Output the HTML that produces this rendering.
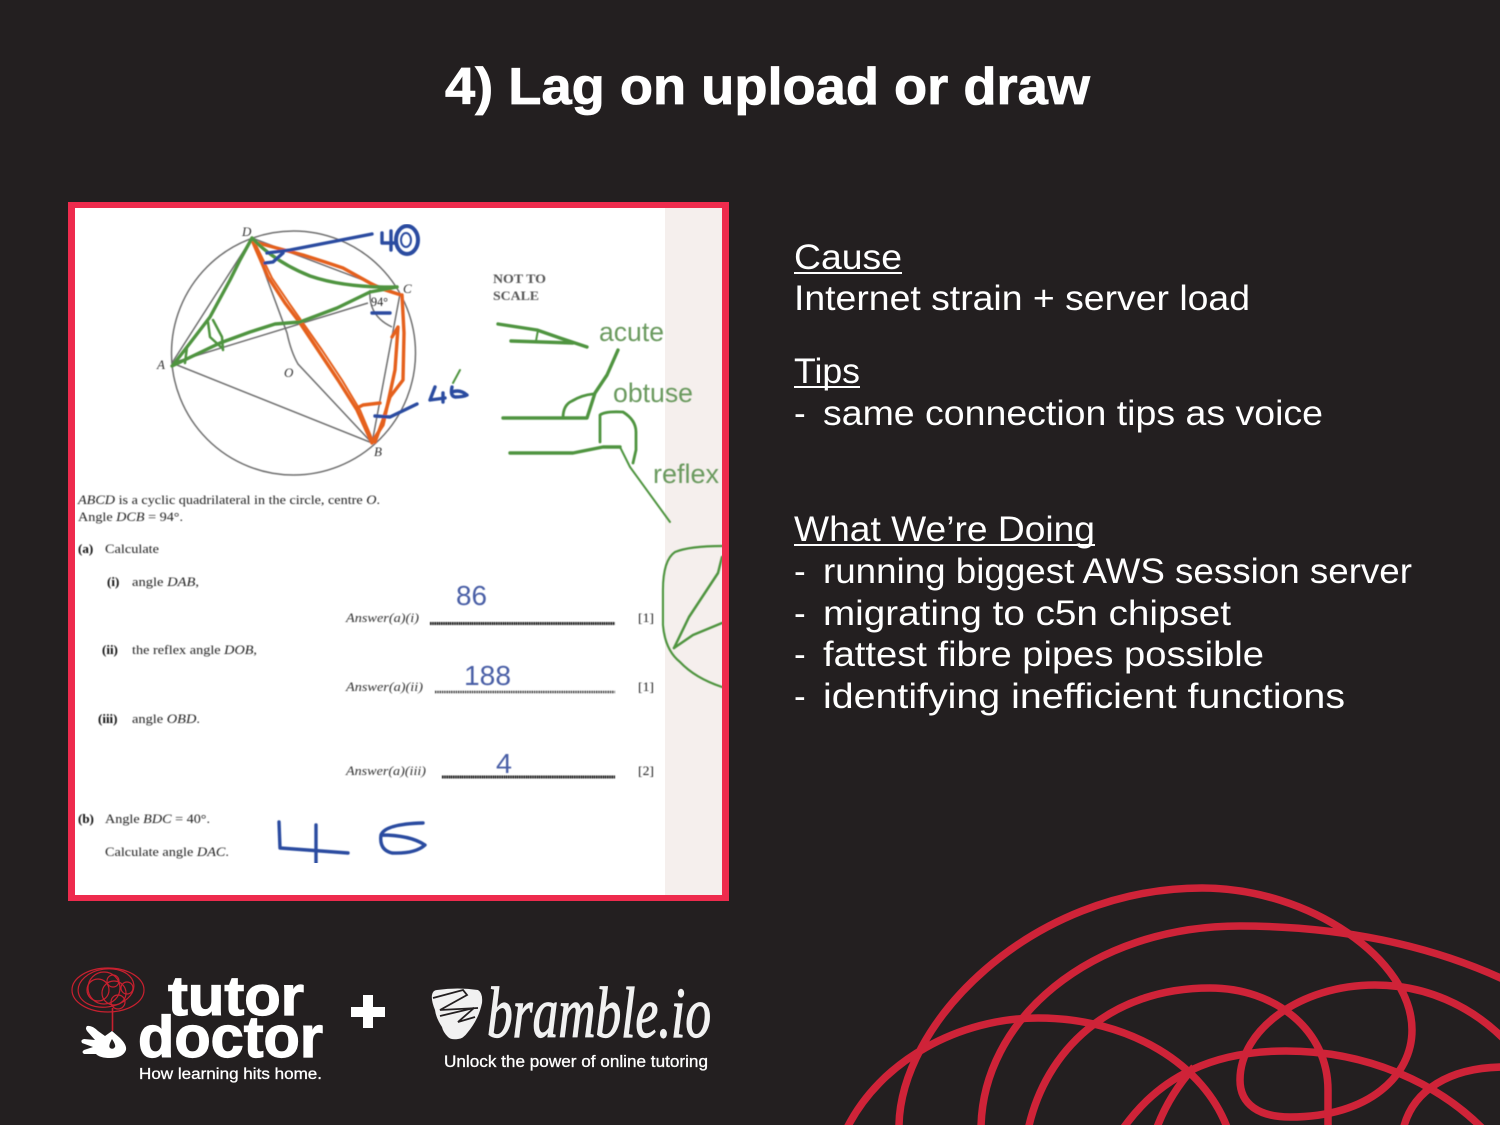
<!DOCTYPE html>
<html lang="en">
<head>
<meta charset="utf-8">
<title>Lag on upload or draw</title>
<style>
html,body{margin:0;padding:0;background:#231f20;width:1500px;height:1125px;overflow:hidden}
svg{display:block}
text{font-family:"Liberation Sans",sans-serif}
.body{font-size:35px;fill:#fff}
.ex{font-family:"Liberation Serif",serif;font-size:13px;fill:#222}
.exb{font-family:"Liberation Serif",serif;font-size:13px;font-weight:bold;fill:#111}
.exi{font-family:"Liberation Serif",serif;font-size:13px;font-style:italic;fill:#333}
.g{fill:none;stroke:#4f9440;stroke-width:3.4;stroke-linejoin:round;stroke-linecap:round}
.o{fill:none;stroke:#e5611d;stroke-width:3.4;stroke-linejoin:round;stroke-linecap:round}
.b{fill:none;stroke:#2a4ba0;stroke-width:3.4;stroke-linejoin:round;stroke-linecap:round}
.k{fill:none;stroke:#6e6e6e;stroke-width:1.5}
.lab{font-size:26.5px;fill:#6a9a5e}
.num{font-size:28px;fill:#4a5ea6}
.s{fill:none;stroke:#cf2338;stroke-width:7.5}
.br{fill:none;stroke:#c8202f;stroke-width:1.2}
</style>
</head>
<body>
<svg width="1500" height="1125" viewBox="0 0 1500 1125" xmlns="http://www.w3.org/2000/svg">
<defs><filter id="soft" x="0" y="0" width="1" height="1"><feGaussianBlur stdDeviation="0.4"/></filter></defs>
<rect width="1500" height="1125" fill="#231f20"/>

<text x="445" y="104" font-size="52" font-weight="bold" fill="#fff" stroke="#fff" stroke-width="0.8" textLength="645" lengthAdjust="spacingAndGlyphs">4) Lag on upload or draw</text>

<!-- Right text -->
<text class="body" x="794" y="269" textLength="108" lengthAdjust="spacingAndGlyphs">Cause</text>
<rect x="794" y="272" width="108" height="2" fill="#fff"/>
<text class="body" x="794" y="310" textLength="456" lengthAdjust="spacingAndGlyphs">Internet strain + server load</text>
<text class="body" x="794" y="383" textLength="66" lengthAdjust="spacingAndGlyphs">Tips</text>
<rect x="794" y="386" width="66" height="2" fill="#fff"/>
<text class="body" x="794" y="425">-</text>
<text class="body" x="823" y="425" textLength="500" lengthAdjust="spacingAndGlyphs">same connection tips as voice</text>
<text class="body" x="794" y="541" textLength="301" lengthAdjust="spacingAndGlyphs">What We’re Doing</text>
<rect x="794" y="544" width="301" height="2" fill="#fff"/>
<text class="body" x="794" y="583">-</text>
<text class="body" x="823" y="583" textLength="589" lengthAdjust="spacingAndGlyphs">running biggest AWS session server</text>
<text class="body" x="794" y="625">-</text>
<text class="body" x="823" y="625" textLength="408" lengthAdjust="spacingAndGlyphs">migrating to c5n chipset</text>
<text class="body" x="794" y="666">-</text>
<text class="body" x="823" y="666" textLength="441" lengthAdjust="spacingAndGlyphs">fattest fibre pipes possible</text>
<text class="body" x="794" y="708">-</text>
<text class="body" x="823" y="708" textLength="522" lengthAdjust="spacingAndGlyphs">identifying inefficient functions</text>

<!-- Exam image -->
<rect x="68" y="202" width="661" height="699" fill="#ee2b4d"/>
<rect x="75" y="208" width="647" height="687" fill="#fff"/>
<rect x="665" y="208" width="57" height="687" fill="#f5efed"/>

<g filter="url(#soft)">
<circle class="k" cx="293.5" cy="353" r="122"/>
<polygon class="k" points="252,238 400,294 372,443 172,363"/>
<path class="k" d="M172 363L368 303M252 238L287 333Q291 352 298 364L372 443"/>
<path class="k" d="M370 290Q368 316 392 327"/>
<text class="exi" x="242" y="236">D</text><text class="exi" x="403" y="293">C</text>
<text class="exi" x="157" y="369">A</text><text class="exi" x="374" y="456">B</text>
<text class="exi" x="284" y="377">O</text><text class="ex" x="371" y="306" textLength="17" lengthAdjust="spacingAndGlyphs">94°</text>

<text class="exb" x="493" y="283" textLength="53" lengthAdjust="spacingAndGlyphs" style="fill:#555">NOT TO</text>
<text class="exb" x="493" y="300" textLength="46" lengthAdjust="spacingAndGlyphs" style="fill:#555">SCALE</text>

<text class="ex" x="78" y="504" textLength="302" lengthAdjust="spacingAndGlyphs"><tspan font-style="italic">ABCD</tspan> is a cyclic quadrilateral in the circle, centre <tspan font-style="italic">O</tspan>.</text>
<text class="ex" x="78" y="521" textLength="105" lengthAdjust="spacingAndGlyphs">Angle <tspan font-style="italic">DCB</tspan> = 94°.</text>
<text class="exb" x="78" y="553">(a)</text><text class="ex" x="105" y="553" textLength="54" lengthAdjust="spacingAndGlyphs">Calculate</text>
<text class="exb" x="107" y="586">(i)</text><text class="ex" x="132" y="586" textLength="67" lengthAdjust="spacingAndGlyphs">angle <tspan font-style="italic">DAB</tspan>,</text>
<text class="exb" x="102" y="654">(ii)</text><text class="ex" x="132" y="654" textLength="125" lengthAdjust="spacingAndGlyphs">the reflex angle <tspan font-style="italic">DOB</tspan>,</text>
<text class="exb" x="98" y="723">(iii)</text><text class="ex" x="132" y="723" textLength="68" lengthAdjust="spacingAndGlyphs">angle <tspan font-style="italic">OBD</tspan>.</text>
<text class="exb" x="78" y="823">(b)</text><text class="ex" x="105" y="823" textLength="105" lengthAdjust="spacingAndGlyphs">Angle <tspan font-style="italic">BDC</tspan> = 40°.</text>
<text class="ex" x="105" y="856" textLength="124" lengthAdjust="spacingAndGlyphs">Calculate angle <tspan font-style="italic">DAC</tspan>.</text>

<text class="exi" x="346" y="622" textLength="73" lengthAdjust="spacingAndGlyphs">Answer(a)(i)</text>
<text class="exi" x="346" y="691" textLength="77" lengthAdjust="spacingAndGlyphs">Answer(a)(ii)</text>
<text class="exi" x="346" y="775" textLength="80" lengthAdjust="spacingAndGlyphs">Answer(a)(iii)</text>
<text class="ex" x="638" y="622" textLength="16" lengthAdjust="spacingAndGlyphs">[1]</text>
<text class="ex" x="638" y="691" textLength="16" lengthAdjust="spacingAndGlyphs">[1]</text>
<text class="ex" x="638" y="775" textLength="16" lengthAdjust="spacingAndGlyphs">[2]</text>
<path d="M430 623.5H615" stroke="#111" stroke-width="3" stroke-dasharray="1.6 .6" fill="none"/>
<path d="M435 692H615" stroke="#333" stroke-width="2.4" stroke-dasharray="1.4 .9" fill="none"/>
<path d="M442 777H615" stroke="#111" stroke-width="3" stroke-dasharray="1.6 .6" fill="none"/>

<text class="num" x="456" y="605" textLength="31" lengthAdjust="spacingAndGlyphs">86</text>
<text class="num" x="464" y="685" textLength="47" lengthAdjust="spacingAndGlyphs">188</text>
<text class="num" x="496" y="773" textLength="16" lengthAdjust="spacingAndGlyphs">4</text>

<text class="lab" x="599" y="341" textLength="65" lengthAdjust="spacingAndGlyphs">acute</text>
<text class="lab" x="613" y="402" textLength="80" lengthAdjust="spacingAndGlyphs">obtuse</text>
<text class="lab" x="653" y="483" textLength="66" lengthAdjust="spacingAndGlyphs">reflex</text>

<!-- orange -->
<polyline class="o" points="258,243 303,255 325,262 343,268 370,283 382,289 401,295"/>
<polyline class="o" points="252,240 268,277 285,303 300,323 318,350 338,380 357,410 372,443"/>
<polyline class="o" style="stroke-width:2" points="256,245 272,278 289,303 303,323 322,350 342,380 360,410 373,441"/>
<polyline class="o" points="402,295 404,333 403,380 390,397 383,420 375,442"/>
<polyline class="o" points="392,337 398,327 395,370 387,407 383,425 372,442"/>
<polyline class="o" points="357,408 363,405 380,403"/>
<!-- green -->
<polyline class="g" points="252,238 240,260 230,280 210,317 187,347 173,365"/>
<polyline class="g" points="172,366 220,343 250,332 275,324 300,322 337,308 370,292 397,287"/>
<path class="g" d="M252 238Q275 262 310 276Q345 288 397 287"/>
<polyline class="g" style="stroke-width:2.5" points="185,363 187,347"/>
<polyline class="g" style="stroke-width:2.5" points="208,322 210,337 222,348"/>
<polyline class="g" style="stroke-width:2.5" points="213,320 222,337 223,350"/>
<polyline class="g" style="stroke-width:2" points="460,370 453,383"/>
<polyline class="g" points="498,324 537,330 560,338 587,347"/>
<polyline class="g" points="511,341 573,343"/>
<polyline class="g" style="stroke-width:2" points="538,330 536,341"/>
<polyline class="g" points="503,418 587,418 595,393 607,375 618,350"/>
<path class="g" style="stroke-width:2.8" d="M563 418Q563 405 572 401Q582 395 593 394"/>
<polyline class="g" points="510,453 573,453 603,447 620,447"/>
<polyline class="g" style="stroke-width:2" points="620,447 630,467 670,522"/>
<path class="g" style="stroke-width:2.8" d="M600 442V415Q605 411 623 412Q636 420 636 432V450L633 463"/>
<path class="g" style="stroke-width:2.2" d="M722 546Q690 546 675 552Q663 560 663 590L663 625Q665 650 680 662Q695 678 722 687"/>
<polyline class="g" style="stroke-width:2.5" points="674,648 689,617 718,573 722,557"/>
<polyline class="g" style="stroke-width:2.5" points="674,648 693,635 722,623"/>
<!-- blue -->
<polyline class="b" points="372,234 290,250 267,253"/>
<polyline class="b" points="283,253 273,262 265,263"/>
<polyline class="b" points="382,233 382,243 395,243"/>
<path class="b" d="M391 231V250"/>
<ellipse class="b" cx="407" cy="240" rx="11" ry="14" style="stroke-width:4"/>
<ellipse class="b" cx="406" cy="240" rx="5" ry="7" style="stroke-width:2"/>
<polyline class="b" points="372,313 390,313"/>
<polyline class="b" points="375,416 390,417 417,404"/>
<polyline class="b" points="435,387 430,400 445,398"/>
<polyline class="b" points="443,393 443,402"/>
<path class="b" d="M452 387Q450 396 455 397Q463 397 467 395Q460 389 452 392"/>
<polyline class="b" points="279,822 280,848 348,853"/>
<polyline class="b" points="316,825 316,863"/>
<path class="b" d="M423 823Q385 824 381 835Q379 850 392 853Q415 854 425 845Q410 835 381 835"/>
</g>

<!-- Swirls -->
<path class="s" d="M899 1130C897 1025 1030 888 1202 888C1310 888 1412 960 1412 1030C1412 1075 1370 1117 1290 1117C1260 1117 1240 1105 1240 1080C1240 1030 1300 985 1375 985C1425 985 1470 1005 1505 1040"/>
<path class="s" d="M981 1130C981 1020 1090 926 1240 926C1340 926 1430 945 1505 980"/>
<path class="s" d="M846 1130C880 1060 960 1018 1038 1018C1130 1018 1205 1065 1228 1130"/>
<path class="s" d="M1028 1130C1045 1050 1110 988 1210 988C1275 988 1328 1030 1328 1090V1130"/>
<path class="s" d="M1122 1130C1160 1075 1215 1051 1286 1051C1370 1051 1440 1085 1484 1130"/>
<path class="s" d="M1156 1130C1165 1105 1178 1085 1194 1067"/>
<path class="s" d="M1403 1130C1412 1090 1450 1067 1505 1067"/>

<!-- Brain logo -->
<g>
<ellipse class="br" cx="108" cy="990" rx="36" ry="22"/>
<ellipse class="br" cx="106" cy="988" rx="28" ry="19" transform="rotate(-8 106 988)"/>
<circle class="br" cx="104" cy="988" r="16"/>
<circle class="br" cx="98" cy="990" r="11"/>
<circle class="br" cx="114" cy="993" r="12"/>
<circle class="br" cx="127" cy="988" r="6"/>
<circle class="br" cx="113" cy="981" r="6"/>
<circle class="br" cx="118" cy="1002" r="7"/>
<path d="M112.5 1008V1031" stroke="#c8202f" stroke-width="1.6"/>
</g>
<!-- Hand -->
<path fill="#fff" d="M87 1026Q92 1025 98 1031L105 1036L112 1031L120 1038Q127 1045 126 1050Q123 1058 110 1058Q100 1058 96 1054L84 1054Q81 1052 84 1050L93 1047L82 1043Q80 1040 84 1039L95 1040L87 1031Q85 1028 87 1026Z"/>
<path fill="#231f20" d="M112 1039Q116 1045 115 1047Q113 1050 110 1048Q108 1046 112 1039Z"/>

<text x="168" y="1015" font-size="56" font-weight="bold" fill="#fff" stroke="#fff" stroke-width="1.2" textLength="136" lengthAdjust="spacingAndGlyphs">tutor</text>
<text x="138" y="1057" font-size="58" font-weight="bold" fill="#fff" stroke="#fff" stroke-width="1.2" textLength="185" lengthAdjust="spacingAndGlyphs">doctor</text>
<text x="139" y="1079" font-size="16" fill="#fff" stroke="#fff" stroke-width=".3" textLength="183" lengthAdjust="spacingAndGlyphs">How learning hits home.</text>

<rect x="351" y="1007" width="34" height="10" fill="#fff"/>
<rect x="363" y="995" width="10" height="33" fill="#fff"/>

<!-- Bramble icon -->
<path fill="#f1f1f1" d="M432 995Q433 990 437 990Q458 987 478 990Q483 993 482 1003Q480 1012 477 1018Q473 1026 468 1032Q463 1039 458 1039Q451 1040 448 1037Q443 1032 442 1027Q436 1018 435 1010Q431 1000 432 995Z"/>
<path fill="none" stroke="#231f20" stroke-width="1.8" d="M433 998L463 990L467 995L440 1010L478 1008"/>
<path fill="none" stroke="#231f20" stroke-width="1.8" d="M440 1016L474 1008L458 1022L475 1017"/>
<text x="487" y="1037" style="font-family:'Liberation Serif',serif" font-size="72" font-style="italic" fill="#f1f1f1" stroke="#f1f1f1" stroke-width="1.2" textLength="224" lengthAdjust="spacingAndGlyphs">bramble.io</text>
<text x="444" y="1067" font-size="16.5" fill="#fff" stroke="#fff" stroke-width=".3" textLength="264" lengthAdjust="spacingAndGlyphs">Unlock the power of online tutoring</text>
</svg>
</body>
</html>
